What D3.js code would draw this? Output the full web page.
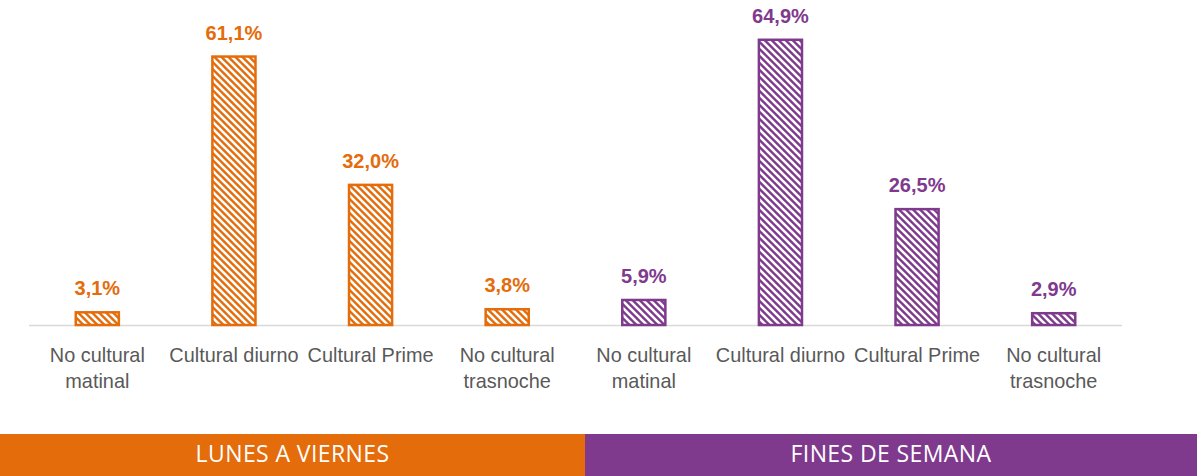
<!DOCTYPE html>
<html>
<head>
<meta charset="utf-8">
<script src="https://cdn.jsdelivr.net/npm/d3@7/dist/d3.min.js"></script>
<style>
  html, body { margin: 0; padding: 0; background: #fff; }
  svg { display: block; }
</style>
</head>
<body>
<svg id="chart" width="1197" height="476"></svg>
<script>
// Share of audience by time slot, weekdays vs weekends
const categories = [
  "No cultural matinal", "Cultural diurno", "Cultural Prime", "No cultural trasnoche",
  "No cultural matinal", "Cultural diurno", "Cultural Prime", "No cultural trasnoche"
];
const categoryLines = [
  ["No cultural", "matinal"], ["Cultural diurno"], ["Cultural Prime"], ["No cultural", "trasnoche"],
  ["No cultural", "matinal"], ["Cultural diurno"], ["Cultural Prime"], ["No cultural", "trasnoche"]
];
const values = [3.1, 61.1, 32.0, 3.8, 5.9, 64.9, 26.5, 2.9];
const groupOf = [0, 0, 0, 0, 1, 1, 1, 1];
const groups = ["LUNES A VIERNES", "FINES DE SEMANA"];
const groupColors = ["#E46C0A", "#7F3A8E"];

const svg = d3.select("#chart");
const W = 1197, H = 476;
const squeeze = 0.97; // slight horizontal squeeze for a narrow sans look
const labelFont = "'Liberation Sans', Arial, sans-serif";

const x = d3.scaleBand()
  .domain(d3.range(values.length))
  .range([29, 1122])
  .paddingInner(0.67)
  .paddingOuter(0.335);

const y = d3.scaleLinear().domain([0, 70]).range([325, 325 - 70 * 4.41]);

// Hatch patterns (white diagonal stripes over the series colour)
const defs = svg.append("defs");
groupColors.forEach((c, i) => {
  const s = 7;
  const p = defs.append("pattern")
    .attr("id", "hatch" + i)
    .attr("patternUnits", "userSpaceOnUse")
    .attr("width", s).attr("height", s);
  p.append("rect").attr("width", s).attr("height", s).attr("fill", c);
  p.append("path")
    .attr("d", `M-1,-1 L${s + 1},${s + 1} M-1,${s - 1} L1,${s + 1} M${s - 1},-1 L${s + 1},1`)
    .attr("stroke", "#fff").attr("stroke-width", 2.6);
});

// Baseline
svg.append("line")
  .attr("x1", 29).attr("x2", 1122)
  .attr("y1", 325.5).attr("y2", 325.5)
  .attr("stroke", "#d9d9d9").attr("stroke-width", 1.5);

// Bars
svg.selectAll("rect.bar")
  .data(values)
  .join("rect")
  .attr("class", "bar")
  .attr("x", (d, i) => x(i) + 1)
  .attr("width", x.bandwidth() - 2)
  .attr("y", d => y(d) + 1)
  .attr("height", d => y(0) - y(d) - 1)
  .attr("fill", (d, i) => `url(#hatch${groupOf[i]})`)
  .attr("stroke", (d, i) => groupColors[groupOf[i]])
  .attr("stroke-width", 2.5);

// Value labels
svg.selectAll("text.val")
  .data(values)
  .join("text")
  .attr("class", "val")
  .attr("transform", (d, i) => `translate(${x(i) + x.bandwidth() / 2},${y(d) - 16}) scale(1.0,1)`)
  .attr("text-anchor", "middle")
  .attr("font-family", labelFont)
  .attr("font-weight", "bold")
  .attr("font-size", 20)
  .attr("fill", (d, i) => groupColors[groupOf[i]])
  .text(d => d.toFixed(1).replace(".", ",") + "%");

// Category labels
const cat = svg.selectAll("text.cat")
  .data(categoryLines)
  .join("text")
  .attr("class", "cat")
  .attr("text-anchor", "middle")
  .attr("font-family", labelFont)
  .attr("font-size", 20.5)
  .attr("fill", "#595959")
  .attr("transform", (d, i) => `translate(${x(i) + x.bandwidth() / 2},362) scale(${squeeze},1)`);
cat.selectAll("tspan")
  .data(d => d)
  .join("tspan")
  .attr("x", 0)
  .attr("dy", (d, j) => j === 0 ? 0 : 26)
  .text(d => d);

// Period bands
const split = 585;
const bands = [[0, split], [split, W]];
svg.selectAll("rect.band")
  .data(groups)
  .join("rect")
  .attr("class", "band")
  .attr("x", (d, i) => bands[i][0])
  .attr("width", (d, i) => bands[i][1] - bands[i][0])
  .attr("y", 434).attr("height", H - 434)
  .attr("fill", (d, i) => groupColors[i]);

svg.selectAll("text.band")
  .data(groups)
  .join("text")
  .attr("class", "band")
  .attr("x", (d, i) => (bands[i][0] + bands[i][1]) / 2)
  .attr("y", 462)
  .attr("text-anchor", "middle")
  .attr("font-family", "'Open Sans', Lato, sans-serif")
  .attr("font-size", 23)
  .attr("letter-spacing", 0.4)
  .attr("fill", "#fff")
  .text(d => d);
</script>
</body>
</html>
